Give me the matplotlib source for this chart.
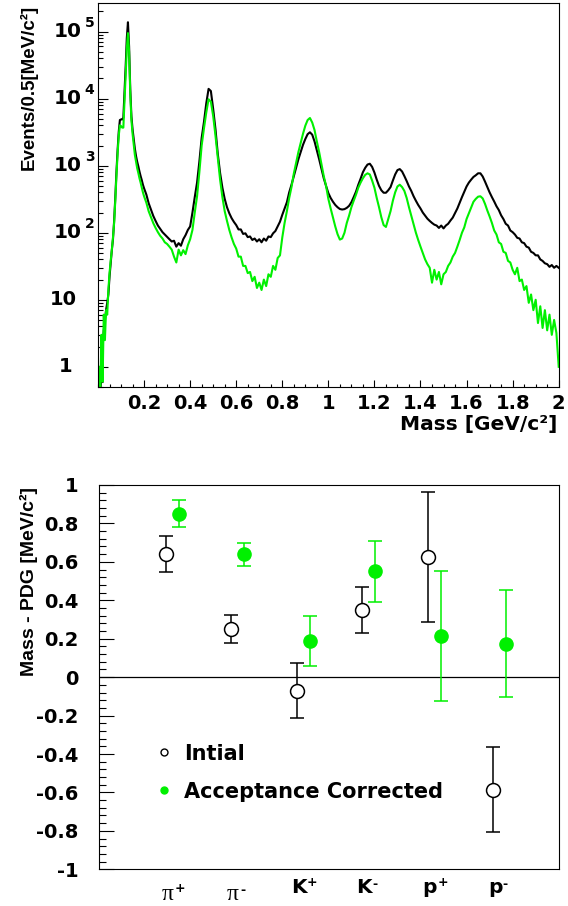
import numpy as np
import matplotlib
matplotlib.use("Agg")
import matplotlib.pyplot as plt
import matplotlib.transforms as mtransforms
from matplotlib.ticker import MultipleLocator, LogLocator, NullFormatter, FuncFormatter, FixedLocator
from matplotlib.lines import Line2D

# ---------------- data ----------------
# mass bins (GeV/c^2): fine bins up to 0.2, then 0.01 steps
mass_low = np.round(np.arange(0.005, 0.2001, 0.005), 3)
mass_high = np.round(np.arange(0.21, 2.0001, 0.01), 2)

black_low = [0.3, 0.4, 0.8, 2, 3.5, 5, 7, 9, 12, 22,
             35, 55, 80, 150, 330, 800, 1700, 3200, 4800, 4900,
             4900, 5200, 12000, 30000, 80000, 138000, 60000, 14000, 5500, 3500,
             2500, 1800, 1400, 1150, 980, 820, 700, 610, 520, 460]
green_low = [1.0, 0.4, 3, 0.6, 6, 2.5, 7, 6, 14, 25,
             38, 55, 85, 140, 300, 700, 1500, 2800, 4000, 3900,
             3700, 3700, 9000, 22000, 55000, 95000, 50000, 12000, 4800, 3000,
             2100, 1450, 1150, 920, 780, 650, 560, 470, 400, 350]

black_high = [370, 275, 222, 178, 150, 128, 114, 102, 94, 87,
              80, 74, 76, 62, 70, 64, 80, 92, 110, 124,
              200, 340, 560, 1150, 2600, 4500, 8500, 14000, 13000, 7000,
              3500, 1500, 780, 470, 320, 240, 195, 165, 145, 130,
              112, 112, 96, 98, 86, 88, 78, 82, 74, 80,
              72, 82, 76, 88, 86, 98, 106, 124, 146, 185,
              230, 285, 400, 520, 700, 950, 1250, 1600, 2050, 2500,
              2950, 3150, 2900, 2300, 1700, 1250, 900, 650, 500, 390,
              330, 290, 260, 240, 226, 222, 225, 235, 252, 285,
              340, 410, 520, 640, 800, 930, 1040, 1070, 960, 790,
              620, 500, 430, 395, 395, 430, 480, 600, 740, 860,
              890, 820, 700, 590, 490, 420, 350, 300, 260, 230,
              200, 180, 162, 150, 140, 132, 128, 118, 128, 116,
              128, 136, 152, 168, 196, 230, 280, 340, 410, 490,
              560, 620, 680, 720, 770, 770, 690, 580, 480, 400,
              340, 292, 248, 218, 182, 160, 136, 128, 108, 102,
              94, 84, 82, 72, 70, 62, 60, 52, 50, 46,
              46, 40, 38, 35, 34, 31, 33, 30, 32, 30]
green_high = [280, 209, 170, 139, 118, 102, 90, 82, 72, 68,
              62, 56, 44, 36, 56, 46, 55, 48, 65, 80,
              110, 200, 350, 800, 2000, 3600, 6200, 9800, 9000, 5500,
              2800, 1300, 620, 340, 210, 150, 110, 85, 68, 58,
              44, 44, 32, 32, 25, 26, 19, 22, 15, 18,
              14, 20, 16, 24, 22, 32, 28, 42, 46, 85,
              140, 210, 330, 480, 760, 1100, 1600, 2200, 3000, 3950,
              4800, 5150, 4400, 3400, 2300, 1600, 1050, 700, 500, 320,
              230, 170, 124, 95, 79, 82, 100, 140, 180, 240,
              300, 370, 470, 560, 650, 730, 770, 740, 600, 470,
              330, 240, 170, 130, 122, 160, 210, 300, 400, 490,
              520, 480, 420, 330, 240, 180, 135, 100, 78, 62,
              50, 40, 34, 30, 18, 28, 20, 26, 17, 24,
              26, 32, 36, 44, 50, 62, 78, 100, 120, 160,
              195, 240, 290, 320, 345, 350, 325, 270, 215, 175,
              140, 108, 94, 72, 68, 52, 50, 38, 36, 28,
              24, 30, 19, 20, 14, 16, 9, 12, 7, 10,
              4.5, 8, 3.8, 7, 3.5, 6, 3, 5, 3.2, 1.0]

mass = np.concatenate([mass_low, mass_high])
counts_initial = np.array(black_low + black_high, dtype=float)
counts_corrected = np.array(green_low + green_high, dtype=float)

particles = ["pi+", "pi-", "K+", "K-", "p+", "p-"]
label_base = ["π", "π", "K", "K", "p", "p"]
label_sup = ["+", "-", "+", "-", "+", "-"]
initial = [0.64, 0.25, -0.07, 0.35, 0.625, -0.585]
initial_err = [0.095, 0.072, 0.143, 0.12, 0.34, 0.222]
corrected = [0.85, 0.64, 0.19, 0.55, 0.215, 0.175]
corrected_err = [0.07, 0.06, 0.13, 0.16, 0.34, 0.28]

GREEN = "#00f000"
SANS_B = dict(family="DejaVu Sans", weight="bold")

fig = plt.figure(figsize=(5.68, 9.06), dpi=100)

# ---------------- top panel ----------------
ax1 = fig.add_axes([0.17254, 0.57285, 0.8111, 0.42417])
ax1.plot(mass, counts_initial, color="black", lw=1.5)
ax1.plot(mass, counts_corrected, color=GREEN, lw=1.5)
ax1.set_yscale("log")
ax1.set_xlim(0, 2.0)
ax1.set_ylim(0.5, 2.7e5)

ax1.set_xticks(np.round(np.arange(0.2, 2.01, 0.2), 1))
ax1.xaxis.set_minor_locator(MultipleLocator(0.05))
ax1.xaxis.set_major_formatter(FuncFormatter(lambda v, p: f"{v:g}"))
ax1.yaxis.set_major_locator(FixedLocator([1, 10, 1e2, 1e3, 1e4, 1e5]))
ax1.yaxis.set_minor_locator(LogLocator(base=10, subs=np.arange(2, 10)))
ax1.yaxis.set_major_formatter(NullFormatter())
ax1.yaxis.set_minor_formatter(NullFormatter())
ax1.tick_params(axis="x", which="major", direction="in", length=5, width=0.8, pad=5,
                top=False, labelsize=14)
ax1.tick_params(axis="x", which="minor", direction="in", length=2.5, width=0.8, top=False)
ax1.tick_params(axis="y", which="major", direction="in", length=7, width=0.8, right=False)
ax1.tick_params(axis="y", which="minor", direction="in", length=3.6, width=0.8, right=False)
for lab in ax1.get_xticklabels():
    lab.set_fontfamily("DejaVu Sans")
    lab.set_fontweight("bold")
for sp in ax1.spines.values():
    sp.set_linewidth(0.8)

ytrans = mtransforms.blended_transform_factory(ax1.transAxes, ax1.transData)
ax1.annotate("1", xy=(0, 1), xycoords=ytrans, xytext=(-18.7, 0), textcoords="offset points",
             ha="right", va="center", fontsize=14, **SANS_B)
ax1.annotate("10", xy=(0, 10), xycoords=ytrans, xytext=(-15.1, 0), textcoords="offset points",
             ha="right", va="center", fontsize=14, **SANS_B)
for k in [2, 3, 4, 5]:
    ax1.annotate("10", xy=(0, 10.0 ** k), xycoords=ytrans, xytext=(-11.5, 0),
                 textcoords="offset points", ha="right", va="center", fontsize=14.5, **SANS_B)
    ax1.annotate(str(k), xy=(0, 10.0 ** k), xycoords=ytrans, xytext=(-9.6, 6.5),
                 textcoords="offset points", ha="left", va="center", fontsize=10, **SANS_B)

fig.text(29 / 568, 1 - 5 / 906, "Events/0.5[MeV/c²]", rotation=90, ha="center", va="top",
         fontsize=13.5, family="Liberation Sans", weight="bold")
fig.text(557 / 568, 1 - 430 / 906, "Mass [GeV/c²]", ha="right", va="baseline",
         fontsize=14.5, **SANS_B)

# ---------------- bottom panel ----------------
ax2 = fig.add_axes([0.17377, 0.04051, 0.8109, 0.42417])
xpos = np.arange(len(particles)) + 1.0
ax2.axhline(0, color="black", lw=0.9, zorder=1)
ax2.errorbar(xpos, initial, yerr=initial_err, fmt="o", ms=10, mfc="white", mec="black",
             mew=1.1, ecolor="black", elinewidth=1.1, capsize=5, capthick=1.1, zorder=3)
ax2.errorbar(xpos + 0.2, corrected, yerr=corrected_err, fmt="o", ms=9.5, mfc=GREEN, mec=GREEN,
             ecolor=GREEN, elinewidth=1.1, capsize=5, capthick=1.1, zorder=3)
ax2.set_xlim(-0.02, 7.01)
ax2.set_ylim(-1, 1)
ax2.set_yticks(np.round(np.arange(-1, 1.01, 0.2), 1))
ax2.yaxis.set_minor_locator(MultipleLocator(0.04))
ax2.yaxis.set_major_formatter(FuncFormatter(lambda v, p: "0" if abs(v) < 1e-9 else f"{v:g}"))
ax2.set_xticks([])
ax2.tick_params(axis="y", which="major", direction="in", length=10.5, width=0.8, pad=14.5,
                right=False, labelsize=14)
ax2.tick_params(axis="y", which="minor", direction="in", length=5, width=0.8, right=False)
for lab in ax2.get_yticklabels():
    lab.set_fontfamily("DejaVu Sans")
    lab.set_fontweight("bold")
for sp in ax2.spines.values():
    sp.set_linewidth(0.8)

fig.text(29 / 568, 1 - 487 / 906, "Mass - PDG [MeV/c²]", rotation=90, ha="center", va="top",
         fontsize=14, family="Liberation Sans", weight="bold")

xtrans = mtransforms.blended_transform_factory(ax2.transData, ax2.transAxes)
for i, (b, s) in enumerate(zip(label_base, label_sup)):
    xc = xpos[i] + 0.03
    if b == "π":
        ax2.annotate(b, xy=(xc, 0), xycoords=xtrans, xytext=(0, -22), textcoords="offset points",
                     ha="center", va="baseline", fontsize=17, family="Liberation Serif")
        hw, sb = 4.6, -16.0
    else:
        ax2.annotate(b, xy=(xc, 0), xycoords=xtrans, xytext=(0, -17.1), textcoords="offset points",
                     ha="center", va="baseline", fontsize=14.5, **SANS_B)
        hw, sb = 5.6 if b == "K" else 5.2, -12.0
    ax2.annotate(s, xy=(xc, 0), xycoords=xtrans, xytext=(hw + 0.4, sb - (1.5 if s == "-" else 0)),
                 textcoords="offset points", ha="left", va="baseline", fontsize=9, **SANS_B)

handles = [Line2D([], [], marker="o", ls="none", ms=5, mfc="white", mec="black", mew=1.0),
           Line2D([], [], marker="o", ls="none", ms=5, mfc=GREEN, mec=GREEN)]
leg = ax2.legend(handles, ["Intial", "Acceptance Corrected"], loc="upper left",
                 bbox_to_anchor=(0.1185, 0.3268), frameon=False, borderpad=0, borderaxespad=0,
                 handlelength=1.0, handletextpad=0.48, labelspacing=0.86,
                 prop=dict(family="DejaVu Sans", weight="bold", size=15))

fig.savefig("out.png", dpi=100)
